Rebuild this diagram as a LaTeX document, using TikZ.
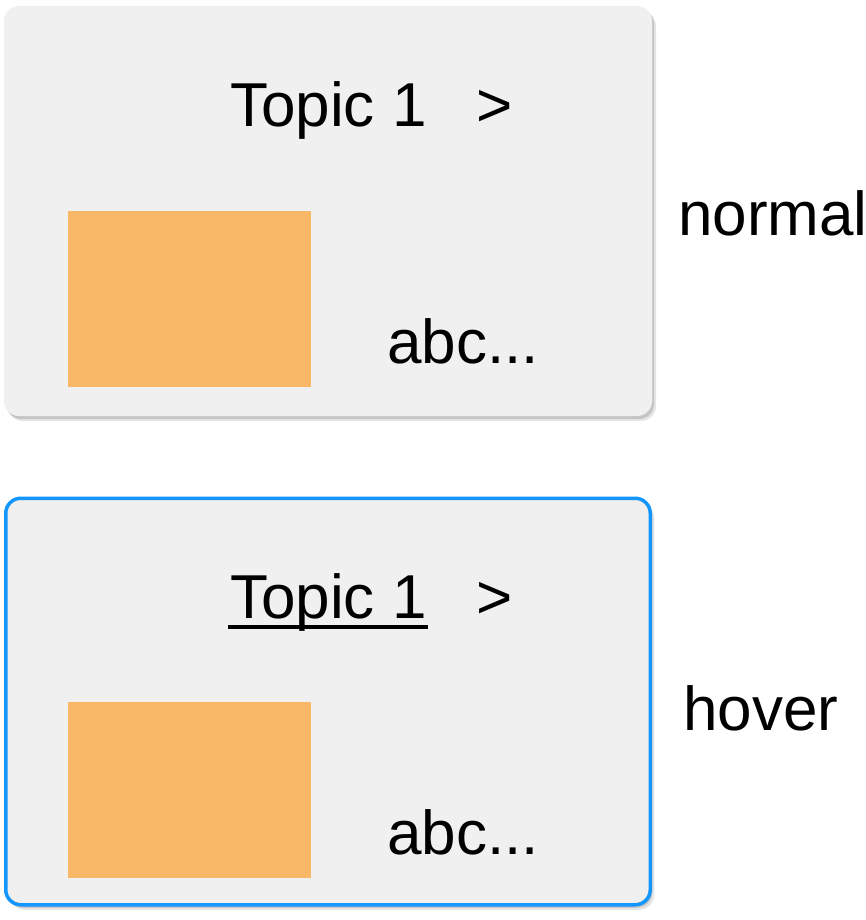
\documentclass[tikz,border=0pt]{standalone}
\usepackage{fontspec}
\setmainfont{Liberation Sans}
\usetikzlibrary{shadows}

\definecolor{cardgray}{HTML}{F0F0F0}
\definecolor{thumborange}{HTML}{F9B867}
\definecolor{hoverblue}{HTML}{1496FF}

\gdef\cardtitle{Topic 1}
\gdef\cardmore{>}
\gdef\cardtext{abc...}

\begin{document}
\begin{tikzpicture}[x=1pt, y=-1pt,
  card/.style={rectangle, rounded corners=15pt, fill=cardgray, minimum width=648pt, minimum height=410pt,
    drop shadow={shadow xshift=4pt, shadow yshift=-5pt, fill=black, opacity=0.10},
    drop shadow={shadow xshift=2pt, shadow yshift=-3pt, fill=black, opacity=0.14}},
  thumb/.style={rectangle, fill=thumborange, minimum width=243pt, minimum height=176pt, anchor=north west},
  txt/.style={inner sep=0pt, anchor=base west, font=\fontsize{62}{74}\selectfont}]

\useasboundingbox (0,0) rectangle (866,920);

% normal state
\node[card] (card1) at (328,211) {};
\node[thumb] (img1) at (68,211) {};
\node[txt] (topic1) at (230,127) {\cardtitle};
\node[txt] (more1) at (476,127) {\cardmore};
\node[txt] (text1) at (387,363) {\cardtext};
\node[txt] (normal) at (678,235) {normal};

% hover state
\node[card, draw=hoverblue, line width=3.5pt, minimum width=644.5pt, minimum height=406.5pt] (card2) at (328,701.5) {};
\node[thumb] (img2) at (68,702) {};
\node[txt] (topic2) at (230,618) {\cardtitle};
\node[txt] (more2) at (476,618) {\cardmore};
\node[txt] (text2) at (387,854) {\cardtext};
\node[txt] (hover) at (683,730) {hover};

\draw[line width=4pt] ([shift={(-2pt,-9pt)}]topic2.base west) -- ([shift={(1pt,-9pt)}]topic2.base east);

\end{tikzpicture}
\end{document}
